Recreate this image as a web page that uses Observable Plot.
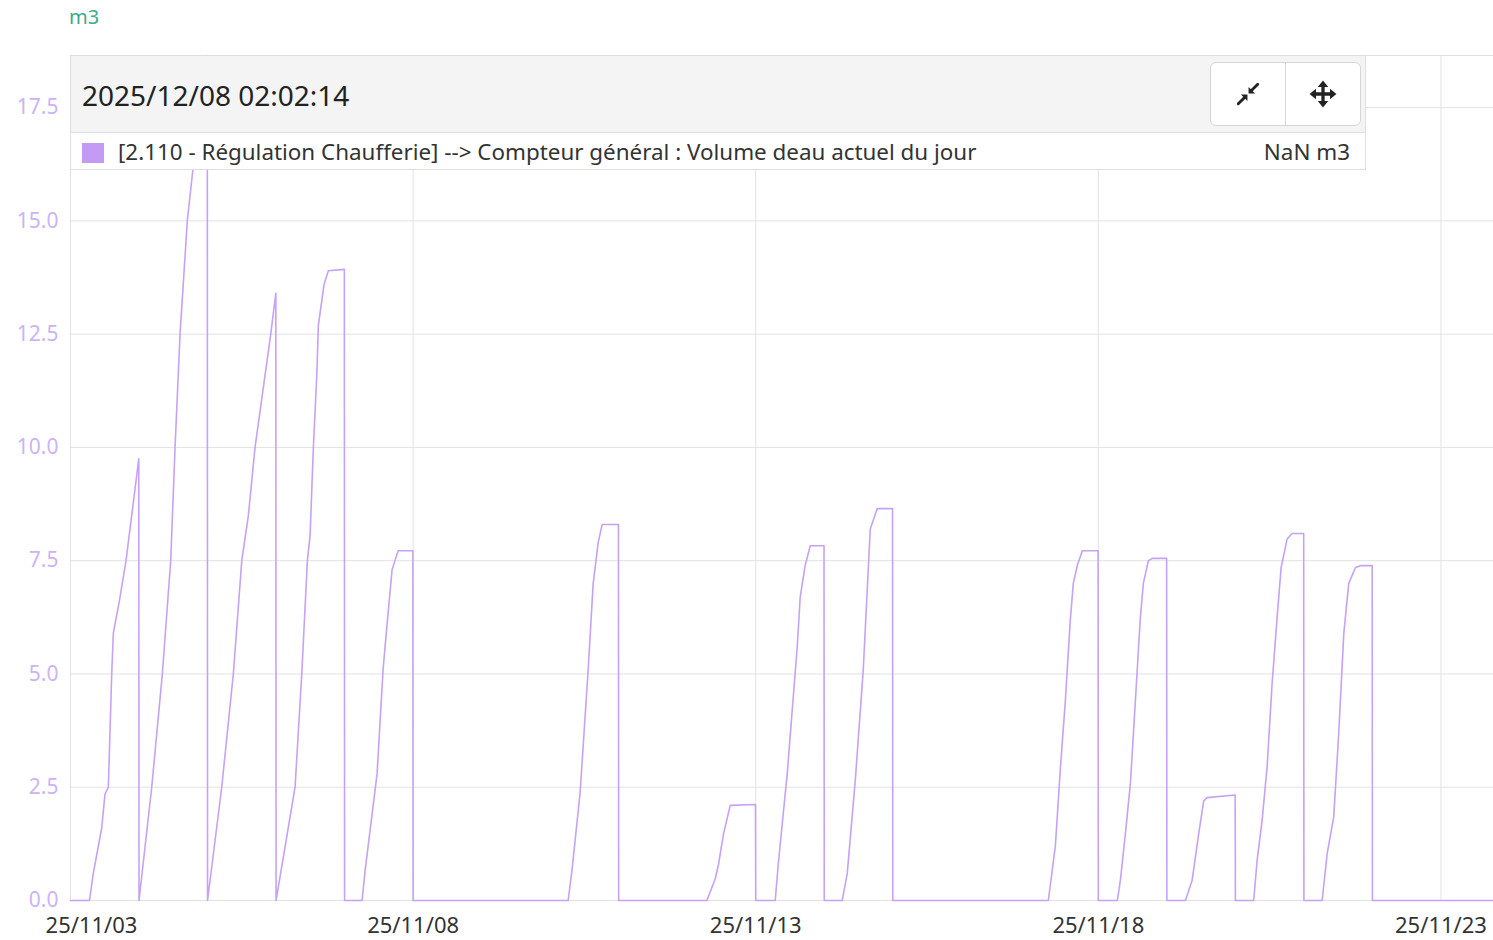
<!DOCTYPE html>
<html>
<head>
<meta charset="utf-8">
<script src="https://cdn.jsdelivr.net/npm/d3@7"></script>
<script src="https://cdn.jsdelivr.net/npm/@observablehq/plot@0.6"></script>
<style>
  html, body { margin: 0; padding: 0; background: #fff; }
  body { font-family: "Noto Sans", "Open Sans", sans-serif; }
  #wrap { position: relative; width: 1493px; height: 940px; overflow: hidden; }
  #chart { position: absolute; left: 0; top: 0; }
  #unit { position: absolute; left: 69px; top: 3px; font-size: 20px; color: #3fa98b; }
  #tip { position: absolute; left: 70px; top: 55px; width: 1296px; height: 115px; box-sizing: border-box;
         border: 1px solid #dedede; background: #fff; }
  #tiphead { position: absolute; left: 0; top: 0; right: 0; height: 76px; background: #f4f4f4; border-bottom: 1px solid #e0e0e0; }
  #tipdate { position: absolute; left: 11px; top: 20px; font-size: 28px; color: #222; }
  #btns { position: absolute; left: 1139px; top: 6px; width: 151px; height: 64px; box-sizing: border-box;
          border: 1px solid #d6d6d6; border-radius: 6px; background: #fff; display: flex; }
  #btns div { flex: 1; display: flex; align-items: center; justify-content: center; }
  #btns div:first-child { border-right: 1px solid #d6d6d6; }
  #tiprow { position: absolute; left: 0; right: 0; top: 77px; height: 37px; }
  #swatch { position: absolute; left: 11px; top: 10px; width: 22px; height: 20px; background: #c39bf4; }
  #series { position: absolute; left: 47px; top: 3px; font-size: 22.4px; color: #333; white-space: nowrap; }
  #val { position: absolute; right: 15px; top: 3px; font-size: 22.4px; color: #333; }
</style>
</head>
<body>
<div id="wrap">
  <div id="chart"></div>
  <div id="unit">m3</div>
  <div id="tip">
    <div id="tiphead">
      <div id="tipdate">2025/12/08 02:02:14</div>
      <div id="btns">
        <div>
          <svg width="26" height="26" viewBox="0 0 24 24">
            <g stroke="#222" stroke-width="2.6" stroke-linecap="round" fill="none">
              <line x1="21" y1="3" x2="14.5" y2="9.5"/>
              <line x1="3" y1="21" x2="9.5" y2="14.5"/>
            </g>
            <polygon points="12.5,11.5 12.5,5.5 18.5,11.5" fill="#222"/>
            <polygon points="11.5,12.5 5.5,12.5 11.5,18.5" fill="#222"/>
          </svg>
        </div>
        <div>
          <svg width="28" height="28" viewBox="0 0 24 24">
            <g stroke="#222" stroke-width="2.8" stroke-linecap="round">
              <line x1="12" y1="4" x2="12" y2="20"/>
              <line x1="4" y1="12" x2="20" y2="12"/>
            </g>
            <g fill="#222">
              <polygon points="12,0.5 7.5,6 16.5,6"/>
              <polygon points="12,23.5 7.5,18 16.5,18"/>
              <polygon points="0.5,12 6,7.5 6,16.5"/>
              <polygon points="23.5,12 18,7.5 18,16.5"/>
            </g>
          </svg>
        </div>
      </div>
    </div>
    <div id="tiprow">
      <div id="swatch"></div>
      <div id="series">[2.110 - Régulation Chaufferie] --&gt; Compteur général : Volume deau actuel du jour</div>
      <div id="val">NaN m3</div>
    </div>
  </div>
</div>
<script>
// ---- data (daily water volume counter, m3) ----
const times = [
  "2025-11-03T00:00","2025-11-03T06:39","2025-11-03T07:59","2025-11-03T10:56","2025-11-03T12:05","2025-11-03T13:15",
  "2025-11-03T14:26","2025-11-03T15:00","2025-11-03T17:06","2025-11-03T19:27","2025-11-03T23:55",
  "2025-11-04T00:00","2025-11-04T04:27","2025-11-04T08:10","2025-11-04T11:06","2025-11-04T12:37","2025-11-04T14:22",
  "2025-11-04T16:55","2025-11-04T18:49","2025-11-04T21:01","2025-11-04T22:10","2025-11-04T23:55",
  "2025-11-05T00:00","2025-11-05T04:58","2025-11-05T09:02","2025-11-05T11:59","2025-11-05T14:18","2025-11-05T16:38",
  "2025-11-05T22:08","2025-11-05T23:55",
  "2025-11-06T00:00","2025-11-06T06:39","2025-11-06T09:00","2025-11-06T10:58","2025-11-06T11:55","2025-11-06T13:04",
  "2025-11-06T14:16","2025-11-06T14:49","2025-11-06T16:49","2025-11-06T18:19","2025-11-06T23:55",
  "2025-11-07T00:00","2025-11-07T06:08","2025-11-07T07:11","2025-11-07T11:23","2025-11-07T13:29","2025-11-07T14:53",
  "2025-11-07T16:38","2025-11-07T18:45","2025-11-07T23:55","2025-11-08T00:00",
  "2025-11-10T06:18","2025-11-10T07:42","2025-11-10T10:31","2025-11-10T13:19","2025-11-10T15:04","2025-11-10T16:49",
  "2025-11-10T18:13","2025-11-10T23:55","2025-11-11T00:00",
  "2025-11-12T06:54","2025-11-12T09:49","2025-11-12T10:58","2025-11-12T12:43","2025-11-12T15:04","2025-11-12T23:55",
  "2025-11-13T00:00",
  "2025-11-13T06:50","2025-11-13T07:53","2025-11-13T11:02","2025-11-13T14:32","2025-11-13T15:35","2025-11-13T17:20",
  "2025-11-13T19:06","2025-11-13T23:55","2025-11-14T00:00",
  "2025-11-14T06:18","2025-11-14T08:03","2025-11-14T10:52","2025-11-14T13:40","2025-11-14T16:07","2025-11-14T18:34",
  "2025-11-14T23:55","2025-11-15T00:00",
  "2025-11-17T06:29","2025-11-17T08:56","2025-11-17T10:41","2025-11-17T12:26","2025-11-17T14:11","2025-11-17T15:14",
  "2025-11-17T16:38","2025-11-17T18:24","2025-11-17T23:55","2025-11-18T00:00",
  "2025-11-18T06:39","2025-11-18T07:42","2025-11-18T09:28","2025-11-18T11:13","2025-11-18T12:58","2025-11-18T14:43",
  "2025-11-18T15:46","2025-11-18T17:31","2025-11-18T18:55","2025-11-18T23:55","2025-11-19T00:00",
  "2025-11-19T06:29","2025-11-19T08:50","2025-11-19T11:08","2025-11-19T12:54","2025-11-19T14:05","2025-11-19T23:55",
  "2025-11-20T00:00",
  "2025-11-20T06:25","2025-11-20T07:36","2025-11-20T09:21","2025-11-20T11:06","2025-11-20T12:51","2025-11-20T14:37",
  "2025-11-20T16:01","2025-11-20T18:07","2025-11-20T19:52","2025-11-20T23:55","2025-11-21T00:00",
  "2025-11-21T06:23","2025-11-21T08:08","2025-11-21T10:26","2025-11-21T12:11","2025-11-21T13:57","2025-11-21T15:42",
  "2025-11-21T18:03","2025-11-21T19:48","2025-11-21T23:55","2025-11-22T00:00",
  "2025-11-23T18:24"
];
const volumes = [
  0, 0, 0.6, 1.6, 2.35, 2.5,
  5.0, 5.9, 6.6, 7.5, 9.75,
  0, 2.5, 5.0, 7.5, 10.0, 12.5,
  15.0, 16.1, 17.9, 18.6, 18.65,
  0, 2.5, 5.0, 7.5, 8.5, 10.0,
  12.5, 13.4,
  0, 2.5, 5.0, 7.5, 8.06, 10.0,
  11.6, 12.7, 13.6, 13.9, 13.93,
  0, 0, 0.66, 2.8, 5.1, 6.1,
  7.3, 7.72, 7.72, 0,
  0, 0.7, 2.4, 5.1, 7.0, 7.9,
  8.3, 8.3, 0,
  0, 0.48, 0.8, 1.47, 2.1, 2.12,
  0,
  0, 0.8, 2.8, 5.6, 6.7, 7.4,
  7.83, 7.83, 0,
  0, 0.6, 2.65, 5.1, 8.2, 8.65,
  8.65, 0,
  0, 1.2, 2.9, 4.4, 6.2, 7.0,
  7.4, 7.72, 7.72, 0,
  0, 0.44, 1.47, 2.58, 4.4, 6.25,
  7.0, 7.5, 7.55, 7.55, 0,
  0, 0.44, 1.47, 2.2, 2.27, 2.33,
  0,
  0, 0.88, 1.77, 2.94, 4.78, 6.25,
  7.35, 7.98, 8.1, 8.1, 0,
  0, 1.03, 1.84, 3.68, 5.88, 7.0,
  7.35, 7.39, 7.39, 0,
  0
];
const xTickDates = ["2025-11-03", "2025-11-08", "2025-11-13", "2025-11-18", "2025-11-23"];
const yTicks = [0, 2.5, 5, 7.5, 10, 12.5, 15, 17.5];
const xDomain = ["2025-11-03T00:00", "2025-11-23T18:24"];
const yMax = 18.65;

const parse = s => new Date(s + (s.length === 10 ? "T00:00Z" : "Z"));
const data = times.map((t, i) => ({t: parse(t), v: volumes[i]}));
const xTicks = xTickDates.map(parse);
const fmt = d3.utcFormat("%y/%m/%d");

const chart = Plot.plot({
  width: 1493,
  height: 940,
  marginTop: 55,
  marginBottom: 40,
  marginLeft: 70,
  marginRight: 0,
  style: {fontFamily: "'Noto Sans', 'Open Sans', sans-serif", background: "#fff", overflow: "visible"},
  x: {type: "utc", domain: xDomain.map(parse)},
  y: {domain: [0, yMax]},
  marks: [
    Plot.gridY(yTicks, {stroke: "#e2e2e2", strokeOpacity: 1}),
    Plot.gridX(xTicks, {stroke: "#e2e2e2", strokeOpacity: 1}),
    Plot.frame({anchor: "top", stroke: "#e2e2e2"}),
    Plot.line(data, {x: "t", y: "v", stroke: "#c6a2f6", strokeWidth: 1.6, curve: "linear"}),
    Plot.axisY(yTicks, {tickFormat: d3.format(".1f"), tickSize: 0, tickPadding: 12, fontSize: 21,
                        color: "#cdb3f6", label: null}),
    Plot.axisX(xTicks.slice(1), {tickFormat: fmt, tickSize: 0, tickPadding: 17, fontSize: 22,
                        color: "#333", label: null}),
    Plot.axisX(xTicks.slice(0, 1), {tickFormat: fmt, tickSize: 0, tickPadding: 17, fontSize: 22,
                        color: "#333", label: null, dx: 21})
  ]
});
document.getElementById("chart").appendChild(chart);
</script>
</body>
</html>
